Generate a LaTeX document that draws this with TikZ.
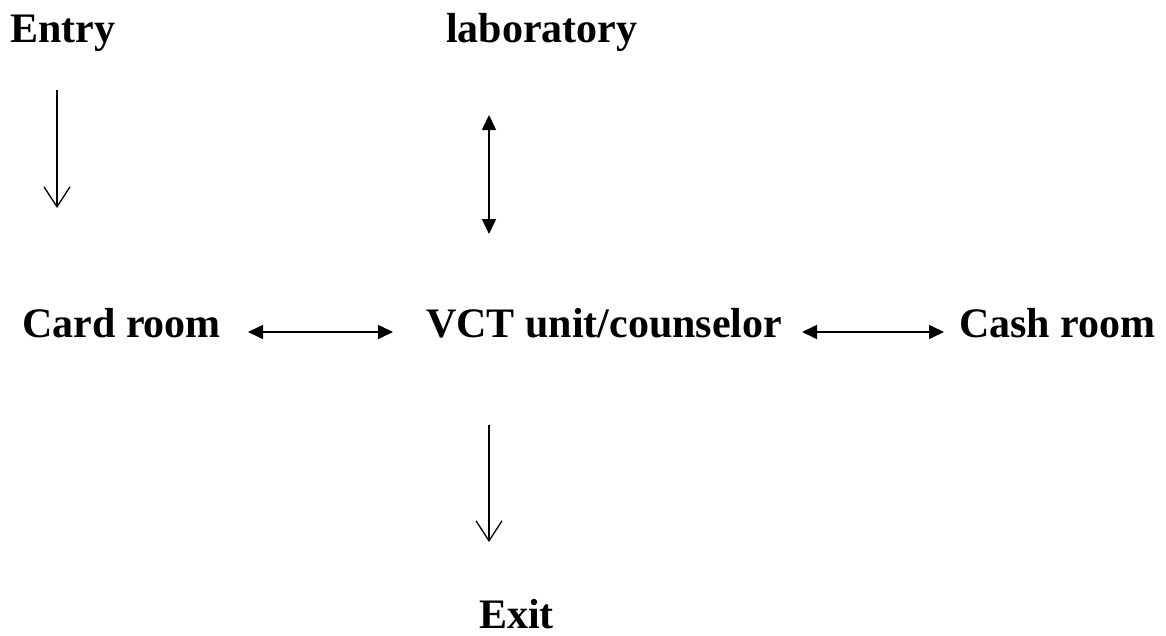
\documentclass[tikz,border=0pt]{standalone}
\usepackage{fontspec}
\setmainfont{Liberation Serif}
\usetikzlibrary{arrows.meta}
\begin{document}
\begin{tikzpicture}[x=1pt,y=-1pt,
  lbl/.style={anchor=base west,inner sep=0pt,font=\fontsize{42pt}{48pt}\selectfont\bfseries},
  oneway/.style={line width=1.3pt,-{Straight Barb[length=20pt,width=26pt,line width=1.3pt]}},
  twoway/.style={line width=1.6pt,{Triangle[length=15pt,width=14pt]}-{Triangle[length=15pt,width=14pt]}}]
\useasboundingbox (0,0) rectangle (1166,635);
\node[lbl] (entry) at (10,42) {Entry};
\node[lbl] (lab) at (446,42) {laboratory};
\node[lbl] (card) at (22,337) {Card room};
\node[lbl] (vct) at (426,337) {VCT unit/counselor};
\node[lbl] (cash) at (959,337) {Cash room};
\node[lbl] (exit) at (479,628) {Exit};
\coordinate (e1) at (57,90);
\coordinate (e2) at (57,208);
\coordinate (l1) at (489,115);
\coordinate (l2) at (489,234);
\coordinate (c1) at (248,332);
\coordinate (c2) at (393,332);
\coordinate (r1) at (802,332);
\coordinate (r2) at (944,332);
\coordinate (x1) at (489,425);
\coordinate (x2) at (489,542);
\draw[oneway] (e1) -- (e2);
\draw[twoway] (l1) -- (l2);
\draw[twoway] (c1) -- (c2);
\draw[twoway] (r1) -- (r2);
\draw[oneway] (x1) -- (x2);
\end{tikzpicture}
\end{document}
